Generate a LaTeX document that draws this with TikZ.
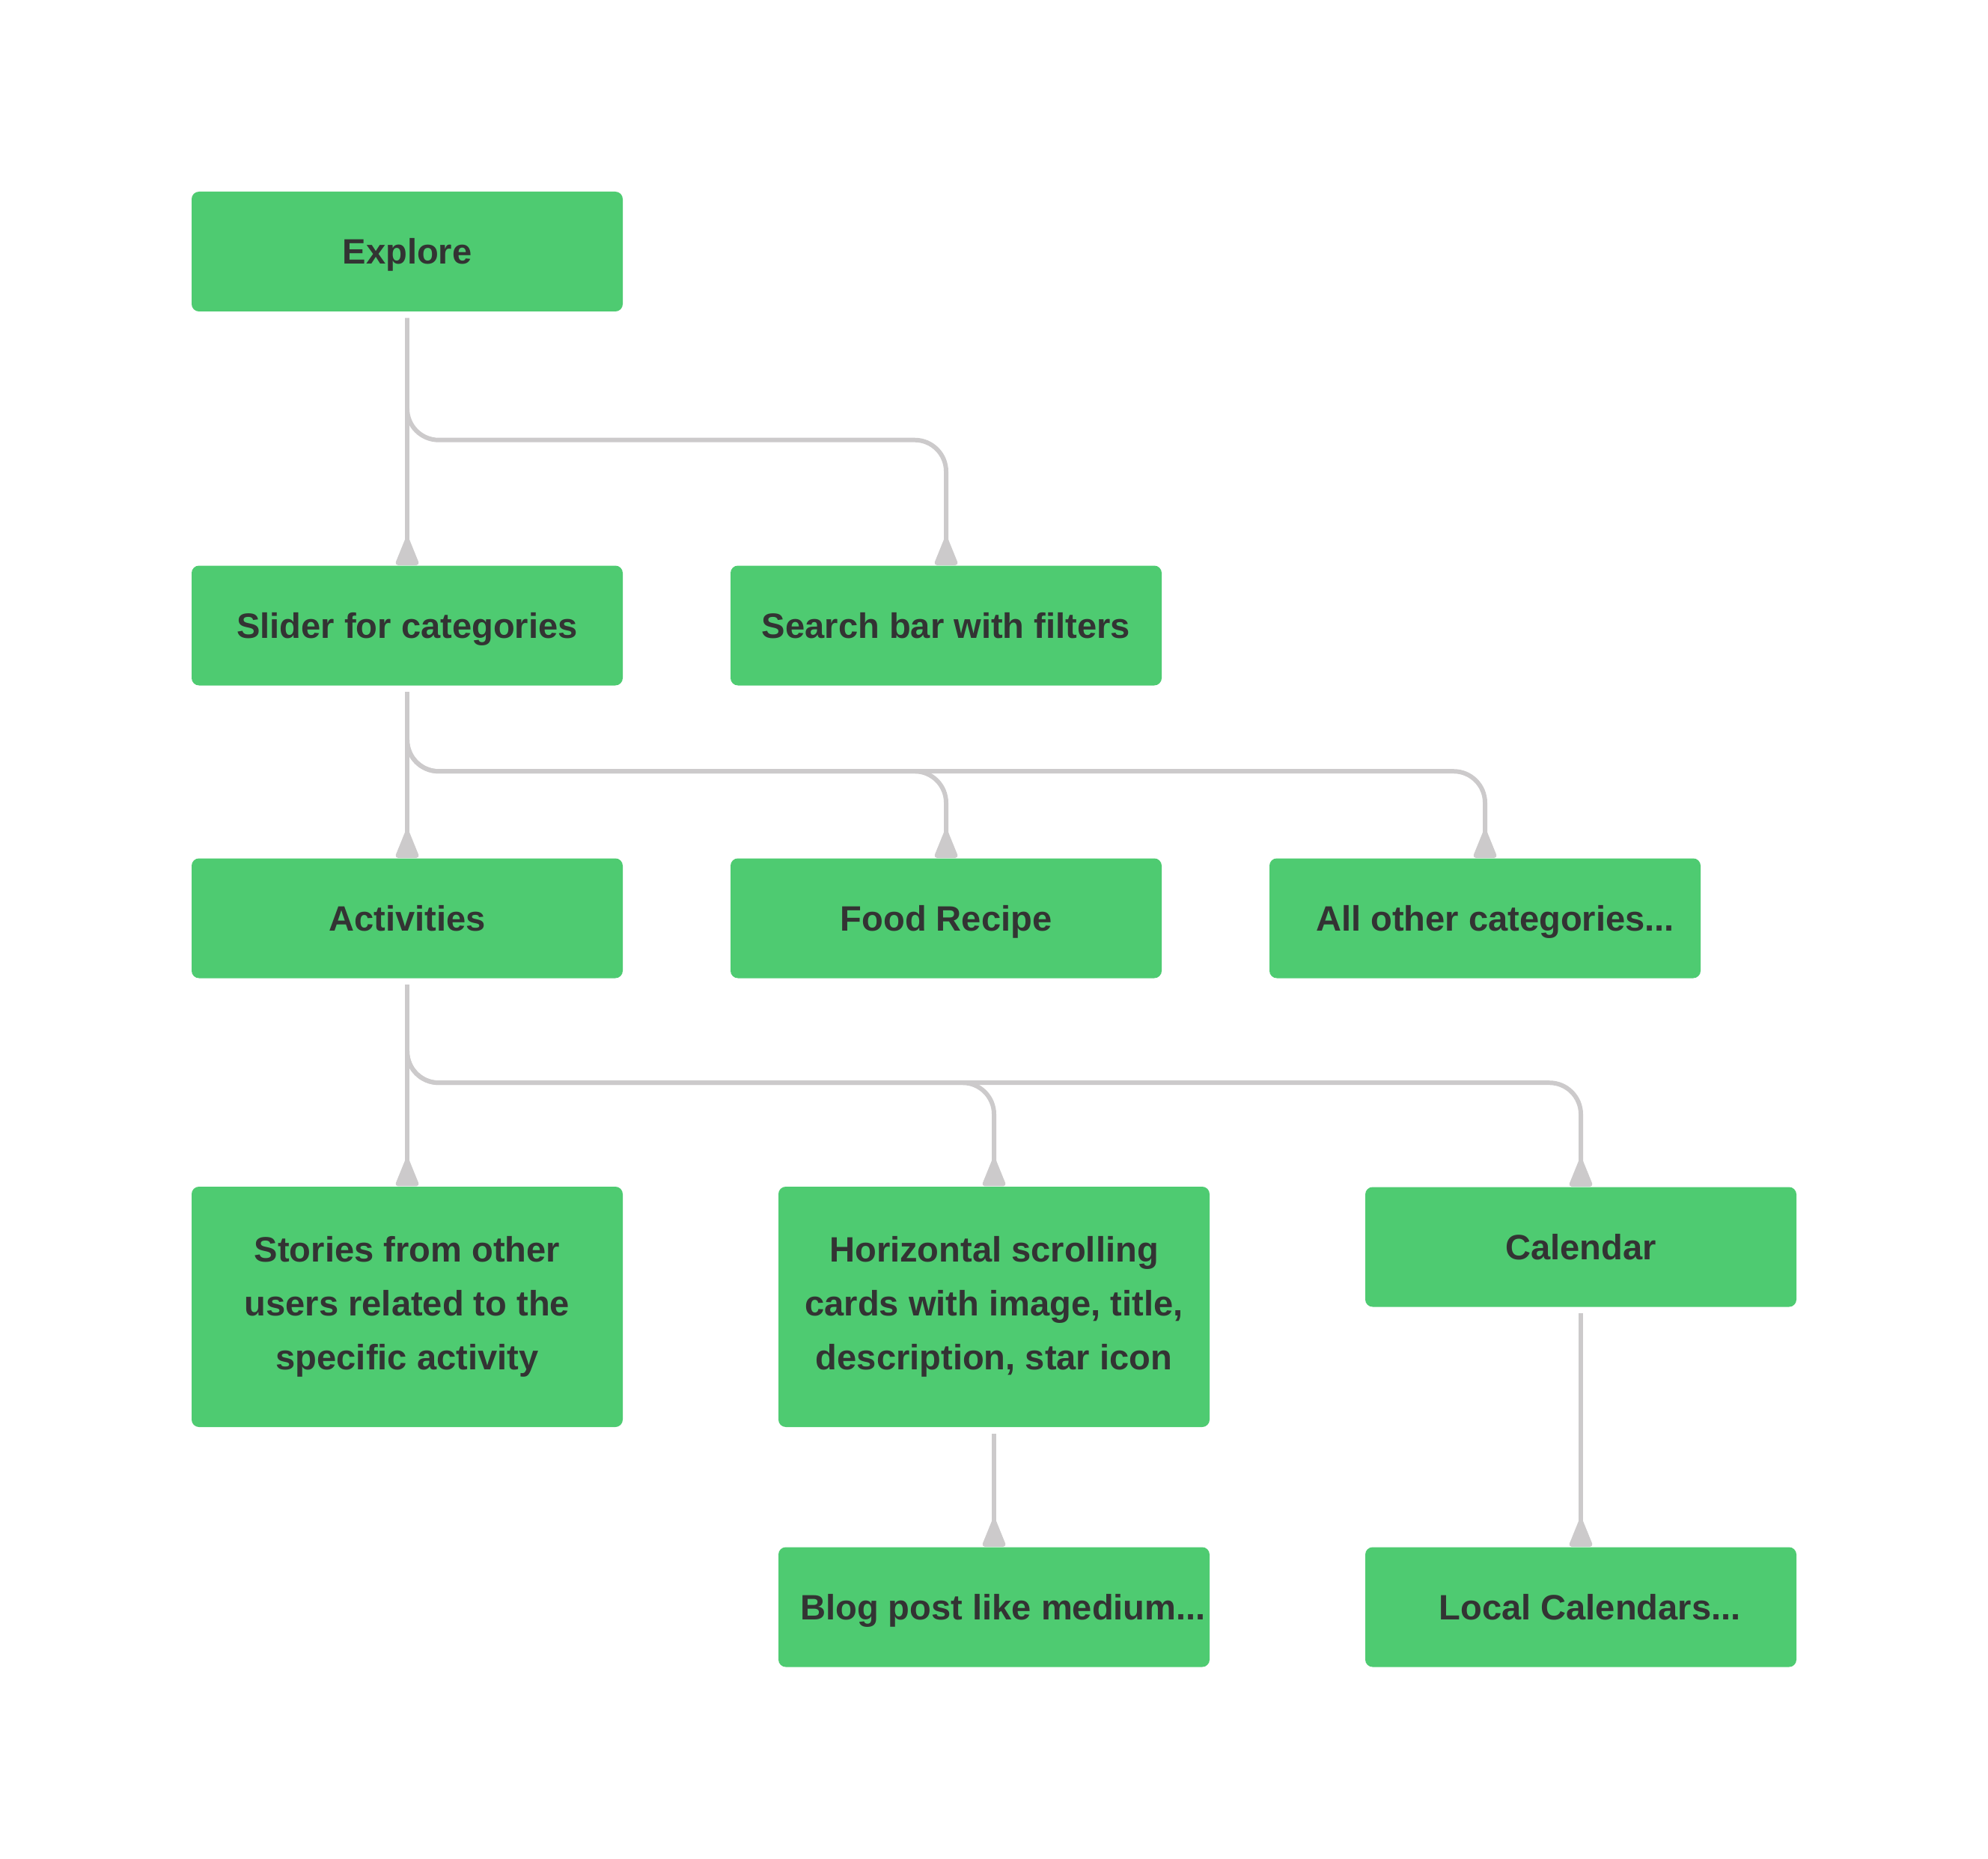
\documentclass[tikz,border=0pt]{standalone}
\usepackage{fontspec}
\setmainfont{Liberation Sans}
\usepackage{tikz}
\usetikzlibrary{calc,positioning,shapes}
\usetikzlibrary{arrows.meta}
\definecolor{boxgreen}{HTML}{4ECB71}
\definecolor{linegray}{RGB}{204,202,203}
\definecolor{textgray}{HTML}{333333}
\tikzset{>={Triangle[width=3.2mm,length=4.2mm,reversed,round]}}

\begin{document}
\begin{tikzpicture}
      \tikzstyle{gbase} = [rectangle, rounded corners=2.8pt, fill=boxgreen, text=textgray, minimum width=5.76cm, inner sep=0pt, align=center, font=\fontsize{13.4}{20.5}\selectfont\bfseries]
      \tikzstyle{gnode} = [gbase, minimum height=1.6cm, text height=9.6pt, text depth=0pt]
      \tikzstyle{gtall} = [gbase, minimum height=3.21cm]
      \tikzstyle{link} = [draw=linegray, line width=1.7pt, rounded corners=0.42cm, shorten <=0.08cm]

      \useasboundingbox (0,0) rectangle (26.56,-24.83);

      \node[gnode] (explore) at (5.44,-3.36) {Explore};

      \node[gnode] (slider) at (5.44,-8.355) {Slider for categories};
      \node[gnode] (search) at (12.64,-8.355) {Search bar with filters};
      \draw[link,->] (explore.south) to (slider.north);
      \draw[link,->] (explore.south) -- ++(0,-1.71) -| (search.north);

      \node[gnode] (activities) at (5.44,-12.265) {Activities};
      \node[gnode] (food) at (12.64,-12.265) {Food Recipe};
      \node[gnode] (otherCat) at (19.84,-12.265) {\hspace*{0.27cm}All other categories...};
      \draw[link,->] (slider.south) to (activities.north);
      \draw[link,->] (slider.south) -- ++(0,-1.14) -| (food.north);
      \draw[link,->] (slider.south) -- ++(0,-1.14) -| (otherCat.north);

      \node[gtall] (stories) at (5.44,-17.455) {Stories from other\\ users related to the\\ specific activity};
      \node[gtall] (cards) at (13.28,-17.455) {Horizontal scrolling\\ cards with image, title,\\ description, star icon};
      \node[gnode] (calendar) at (21.12,-16.655) {Calendar};
      \draw[link,->] (activities.south) to (stories.north);
      \draw[link,->] (activities.south) -- ++(0,-1.39) -| (cards.north);
      \draw[link,->] (activities.south) -- ++(0,-1.39) -| (calendar.north);

      \node[gnode] (blog) at (13.28,-21.465) {\hspace*{0.24cm}Blog post like medium...};
      \node[gnode] (localCal) at (21.12,-21.465) {\hspace*{0.24cm}Local Calendars...};
      \draw[link,->] (cards.south) to (blog.north);
      \draw[link,->] (calendar.south) to (localCal.north);

    \end{tikzpicture}
\end{document}
